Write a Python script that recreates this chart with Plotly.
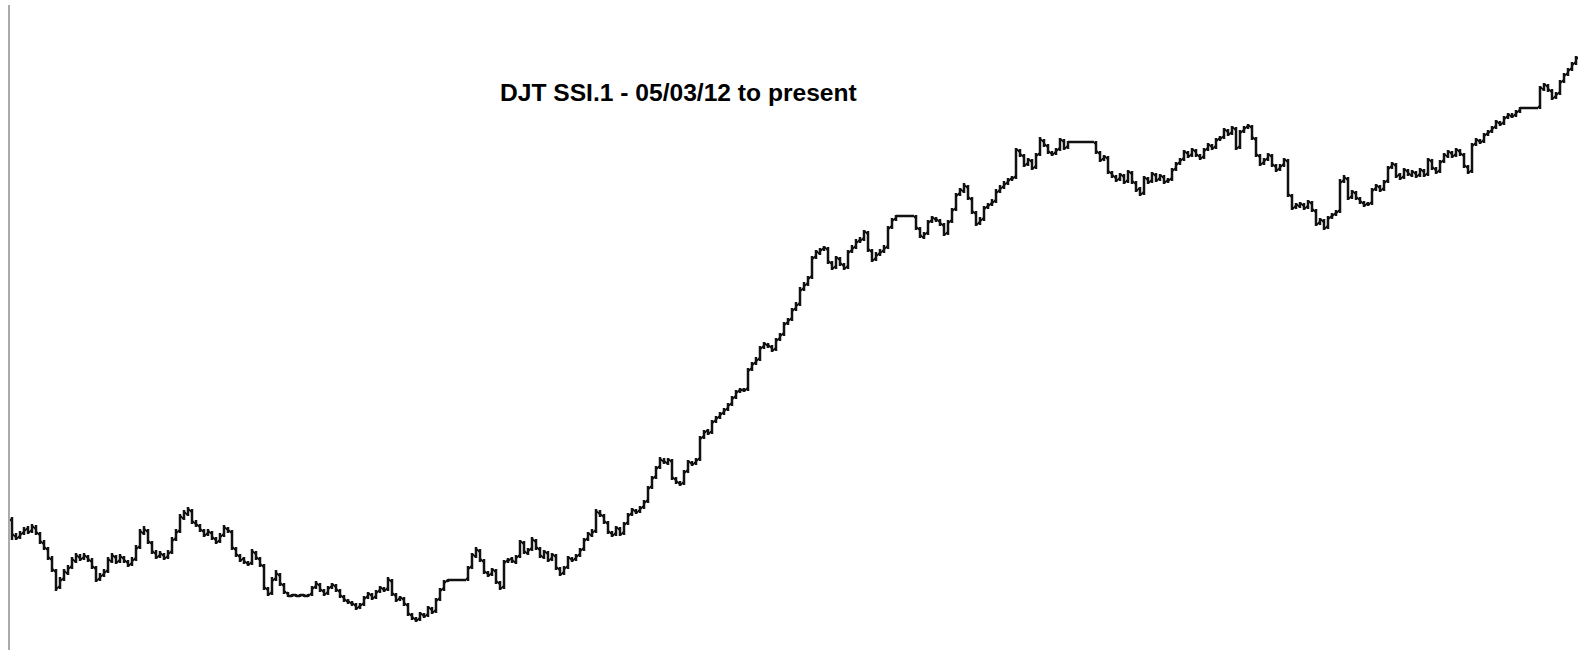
import plotly.graph_objects as go

title_text = "DJT SSI.1 - 05/03/12 to present"

opens = [
140,124,123,127,131,129,132,126,117,111,
101,89,73,81,87,93,99,103,102,103,
99,92,81,85,89,99,103,99,102,98,
96,101,113,127,129,117,107,104,105,103,
108,121,129,142,146,149,137,134,129,126,
127,121,119,125,131,128,111,104,101,97,
97,107,101,94,71,67,81,85,75,67,
64,65,64,65,64,66,73,75,69,67,
73,74,69,63,59,57,55,53,56,63,
65,63,69,71,71,79,65,61,61,55,
45,41,41,45,45,51,49,61,71,79,
80,80,80,80,81,93,104,109,99,87,
86,89,77,73,99,101,98,104,117,107,
111,119,111,103,107,101,104,91,87,93,
101,101,105,111,121,125,129,147,144,137,
127,126,131,127,137,146,149,149,153,159,
173,183,193,199,197,199,181,177,177,189,
197,197,201,223,229,228,239,243,247,251,
256,263,269,270,271,291,297,301,313,315,
313,311,321,326,337,341,351,356,371,376,
383,403,407,411,411,397,393,401,395,393,
409,413,419,421,427,409,401,406,409,413,
433,441,444,444,444,444,443,431,423,427,
439,441,439,435,427,439,451,466,469,473,
461,447,437,441,453,456,459,469,473,477,
481,483,509,504,496,499,493,506,519,514,
507,507,511,519,513,518,518,518,518,518,
518,517,507,501,502,487,483,481,484,479,
487,477,471,467,481,479,485,481,483,479,
481,491,497,501,507,505,509,504,503,511,
514,513,521,523,529,527,531,513,529,533,
533,521,504,497,501,504,494,491,495,499,
464,453,454,455,453,457,449,437,439,433,
443,446,449,479,481,463,467,461,457,456,
457,471,473,471,479,493,495,485,483,489,
485,487,485,489,486,499,491,489,499,504,
507,505,509,505,493,489,516,519,519,526,
529,533,537,537,543,544,545,549,552,552,
552,552,553,571,574,569,563,567,579,586,
591,597,
]

highs = [
143,127,129,133,134,136,135,128,120,113,
104,91,83,91,95,103,107,106,107,105,
102,94,87,91,103,107,105,106,104,100,
103,115,131,134,131,119,110,109,107,110,
123,131,146,150,153,151,140,136,131,131,
129,123,127,135,133,130,113,106,103,99,
111,109,103,96,73,83,90,87,77,68,
66,66,66,66,66,74,79,77,71,74,
77,76,71,65,61,59,57,57,64,68,
67,70,74,73,83,81,67,64,63,57,
47,43,48,47,54,53,62,72,80,81,
81,81,81,81,94,107,113,111,101,89,
92,91,79,100,102,103,105,120,119,112,
123,121,113,110,109,107,106,93,94,104,
103,106,112,122,128,131,151,150,146,139,
129,134,133,138,147,152,151,154,160,174,
184,194,203,202,202,201,183,179,190,200,
199,202,224,230,231,240,244,248,252,257,
264,270,272,272,292,298,303,314,318,317,
315,322,327,338,342,352,358,373,378,384,
404,410,412,414,413,399,404,403,397,410,
415,421,423,430,429,411,408,411,415,434,
442,445,445,445,445,445,445,433,428,440,
444,443,441,437,440,452,467,472,477,475,
463,449,443,454,457,461,471,475,479,482,
484,512,511,506,502,501,507,523,521,516,
509,512,522,521,519,519,519,519,519,519,
519,519,509,505,504,489,485,487,486,490,
489,479,473,484,483,488,487,486,485,482,
492,498,502,510,509,512,511,506,512,517,
516,522,524,532,531,534,533,530,534,536,
535,523,506,502,507,506,496,496,502,501,
466,457,458,457,460,459,451,442,441,444,
447,450,481,485,483,470,469,463,459,458,
472,476,475,480,494,498,497,487,492,491,
490,489,492,491,502,501,493,500,507,510,
509,512,511,507,495,517,522,521,527,530,
534,540,539,544,547,547,550,553,553,553,
553,553,574,577,576,571,568,580,587,592,
598,604,
]

lows = [
120,120,121,125,126,127,125,116,110,100,
88,69,71,79,85,91,97,99,100,98,
91,78,79,83,87,97,96,97,97,93,
94,99,111,125,116,106,101,102,100,101,
106,119,127,140,144,136,133,128,123,124,
120,116,117,123,127,110,103,98,96,94,
95,100,93,70,64,65,79,74,66,63,
63,63,63,63,63,64,71,68,64,65,
71,68,62,58,56,54,50,51,54,61,
60,61,67,68,69,64,58,59,54,44,
40,38,39,42,43,46,47,59,69,78,
79,79,79,79,79,91,102,98,86,83,
84,76,70,71,97,97,96,102,106,105,
109,110,102,101,98,99,90,84,85,91,
98,99,103,109,119,123,127,143,136,126,
123,124,124,125,135,144,146,147,151,157,
171,181,191,196,195,180,176,174,175,187,
194,195,199,221,225,226,237,241,245,249,
254,261,267,268,269,289,295,299,311,312,
308,309,319,324,335,339,349,354,369,374,
381,401,405,409,396,390,391,394,390,391,
407,411,417,419,408,398,399,404,407,411,
431,439,443,443,443,443,430,422,421,425,
437,438,434,424,425,437,449,464,467,460,
446,434,435,439,451,454,457,467,471,475,
479,481,503,493,494,490,491,504,513,506,
504,505,509,510,511,517,517,517,517,517,
517,506,498,499,486,482,478,479,476,477,
476,468,464,465,476,477,478,479,476,477,
479,489,495,499,502,503,503,500,501,509,
510,511,519,521,524,525,510,511,527,531,
520,503,494,495,499,493,488,489,493,463,
450,451,452,450,451,448,434,435,430,431,
441,444,447,477,460,461,460,456,453,454,
455,469,468,469,477,491,482,480,481,484,
483,482,483,483,484,490,486,487,497,502,
502,503,504,492,486,487,514,516,517,524,
527,531,534,535,541,542,543,547,551,551,
551,551,551,569,568,560,561,565,577,584,
589,595,
]

closes = [
125,122,126,130,128,133,127,118,112,102,
90,72,80,88,92,100,104,101,104,100,
93,80,84,88,100,104,98,103,99,95,
100,112,128,130,118,108,103,106,102,107,
120,128,143,147,150,138,135,130,125,128,
122,118,124,132,129,112,105,100,98,96,
108,102,95,72,66,80,86,76,68,64,
65,64,65,64,65,72,76,70,66,72,
75,70,64,60,58,56,52,55,62,66,
62,68,72,70,80,66,60,62,56,46,
42,40,46,44,52,48,60,70,78,80,
80,80,80,80,92,105,110,100,88,85,
90,78,72,98,100,99,103,118,108,110,
120,112,104,108,100,105,92,86,92,102,
100,104,110,120,126,128,148,145,138,128,
125,132,126,136,145,150,148,152,158,172,
182,192,200,198,200,182,178,176,188,198,
196,200,222,228,227,238,242,246,250,255,
262,268,270,270,290,296,300,312,316,314,
310,320,325,336,340,350,355,370,375,382,
402,408,410,412,398,392,402,396,392,408,
412,418,420,428,410,400,405,408,412,432,
440,444,444,444,444,444,432,424,426,438,
442,440,436,426,438,450,465,470,474,462,
448,436,440,452,455,458,468,472,476,480,
482,510,505,495,500,492,505,520,515,508,
506,510,520,512,518,518,518,518,518,518,
518,508,500,503,488,484,480,485,478,488,
478,470,466,482,478,486,480,484,478,480,
490,496,500,508,504,510,505,502,510,515,
512,520,522,530,526,532,512,528,532,534,
522,505,496,500,505,495,490,494,500,465,
452,455,456,452,458,450,436,440,432,442,
445,448,478,482,462,468,462,458,455,456,
470,474,470,478,492,496,484,482,490,486,
488,484,490,485,500,492,488,498,505,508,
504,510,506,494,488,515,520,518,525,528,
532,538,536,542,545,544,548,552,552,552,
552,552,572,575,570,562,566,578,585,590,
596,602,
]

sessions = list(range(len(closes)))

fig = go.Figure(
    go.Ohlc(
        x=sessions,
        open=opens,
        high=highs,
        low=lows,
        close=closes,
        increasing=dict(line=dict(color="#111111", width=2.5)),
        decreasing=dict(line=dict(color="#111111", width=2.5)),
        tickwidth=0.5,
        hoverinfo="skip",
        showlegend=False,
    )
)

fig.add_annotation(
    text="<b>" + title_text + "</b>",
    xref="paper", yref="paper",
    x=0.426, y=0.864,
    xanchor="center", yanchor="middle",
    showarrow=False,
    font=dict(family="Liberation Sans, Arial, sans-serif", size=24.6, color="#000000"),
)

fig.update_layout(
    width=1585,
    height=660,
    margin=dict(l=10, r=5, t=5, b=10, pad=0, autoexpand=False),
    paper_bgcolor="white",
    plot_bgcolor="white",
    xaxis=dict(
        range=[-0.5, len(closes)],
        rangeslider=dict(visible=False),
        showgrid=False, zeroline=False, showline=False,
        showticklabels=False, ticks="", automargin=False,
    ),
    yaxis=dict(
        range=[10, 655],
        showgrid=False, zeroline=False,
        showline=True, linecolor="#aaaaaa", linewidth=2,
        showticklabels=False, ticks="", automargin=False,
    ),
)

fig.write_html(
    "out.html",
    config={"displayModeBar": False},
    post_script="document.body.style.margin='0px';document.body.style.overflow='hidden';",
)
